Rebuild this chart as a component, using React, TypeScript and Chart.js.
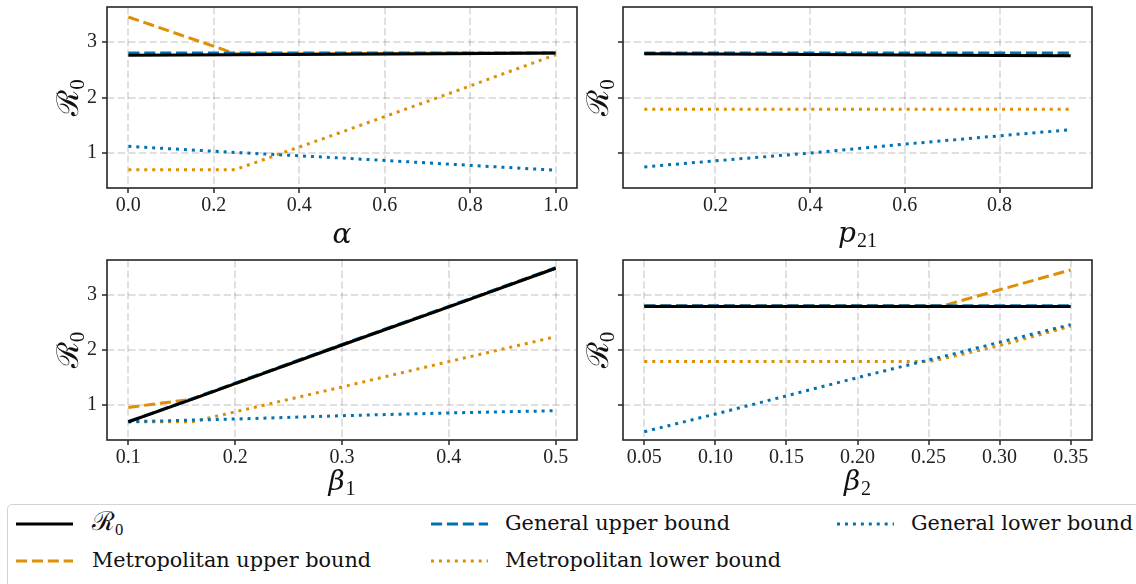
import React, { useEffect, useRef } from 'react';
import { Chart, registerables } from 'chart.js';

Chart.register(...registerables);

// ---------------- data ----------------
const yTicks = [1, 2, 3];
const yMin = 0.37;
const yMax = 3.63;

// alpha panel
const alphaX = [0, 0.25, 0.5, 0.75, 1.0];
const alphaR0 = [2.76, 2.77, 2.78, 2.79, 2.8];
const alphaGenUpper = [2.8, 2.8, 2.8, 2.8, 2.8];
const alphaMetUpper = [3.45, 2.79, 2.79, 2.8, 2.8];
const alphaGenLower = [1.12, 1.01, 0.91, 0.8, 0.69];
const alphaMetLower = [0.7, 0.7, 1.38, 2.07, 2.77];
const alphaTicks = [0, 0.2, 0.4, 0.6, 0.8, 1.0];

// p21 panel
const p21X = [0.05, 0.2, 0.4, 0.6, 0.8, 0.95];
const p21R0 = [2.79, 2.785, 2.775, 2.765, 2.755, 2.75];
const p21GenUpper = [2.8, 2.8, 2.8, 2.8, 2.8, 2.8];
const p21MetUpper = [2.79, 2.79, 2.79, 2.79, 2.79, 2.79];
const p21GenLower = [0.75, 0.86, 1.0, 1.16, 1.31, 1.42];
const p21MetLower = [1.79, 1.79, 1.79, 1.79, 1.79, 1.79];
const p21Ticks = [0.2, 0.4, 0.6, 0.8];

// beta1 panel
const beta1X = [0.1, 0.16, 0.2, 0.3, 0.4, 0.5];
const beta1R0 = [0.7, 1.11, 1.39, 2.09, 2.78, 3.48];
const beta1GenUpper = [0.7, 1.12, 1.4, 2.1, 2.79, 3.49];
const beta1MetUpper = [0.96, 1.11, 1.39, 2.09, 2.78, 3.48];
const beta1GenLower = [0.7, 0.73, 0.75, 0.81, 0.86, 0.9];
const beta1MetLower = [0.7, 0.7, 0.88, 1.33, 1.79, 2.24];
const beta1Ticks = [0.1, 0.2, 0.3, 0.4, 0.5];

// beta2 panel
const beta2X = [0.05, 0.1, 0.15, 0.2, 0.25, 0.26, 0.3, 0.35];
const beta2R0 = [2.79, 2.79, 2.79, 2.79, 2.79, 2.79, 2.79, 2.79];
const beta2GenUpper = [2.8, 2.8, 2.8, 2.8, 2.8, 2.8, 2.8, 2.8];
const beta2MetUpper = [2.8, 2.8, 2.8, 2.8, 2.8, 2.8, 3.09, 3.45];
const beta2GenLower = [0.52, 0.84, 1.17, 1.5, 1.82, 1.88, 2.14, 2.46];
const beta2MetLower = [1.79, 1.79, 1.79, 1.79, 1.79, 1.84, 2.08, 2.43];
const beta2Ticks = [0.05, 0.1, 0.15, 0.2, 0.25, 0.3, 0.35];

// axis titles (main symbol + subscript)
const yTitleMain = 'ℛ';
const yTitleSub = '0';
const xTitles = [
  { main: 'α', sub: '' },
  { main: 'p', sub: '21' },
  { main: 'β', sub: '1' },
  { main: 'β', sub: '2' },
];

// legend labels
const labelR0 = 'ℛ';
const labelMetUpper = 'Metropolitan upper bound';
const labelGenUpper = 'General upper bound';
const labelMetLower = 'Metropolitan lower bound';
const labelGenLower = 'General lower bound';

// ---------------- styles ----------------
const BLUE = '#0173B2';
const ORANGE = '#DE8F05';
const DASH = [11.1, 4.8];
const DOT = [3, 4.95];
const LW = 3;

const styles = {
  r0: { color: '#000000', dash: [] as number[] },
  genUpper: { color: BLUE, dash: DASH },
  metUpper: { color: ORANGE, dash: DASH },
  genLower: { color: BLUE, dash: DOT },
  metLower: { color: ORANGE, dash: DOT },
};

type PanelDef = {
  xs: number[];
  r0: number[];
  genUpper: number[];
  metUpper: number[];
  genLower: number[];
  metLower: number[];
  ticks: number[];
  dec: number;
  xMin: number;
  xMax: number;
  title: { main: string; sub: string };
  showY: boolean;
  cx: number; cy: number; cw: number; ch: number;
  ax: number; ay: number; ar: number; ab: number;
  yTitleX: number;
  xBaseline: number;
};

const panels: PanelDef[] = [
  {
    xs: alphaX, r0: alphaR0, genUpper: alphaGenUpper, metUpper: alphaMetUpper,
    genLower: alphaGenLower, metLower: alphaMetLower, ticks: alphaTicks, dec: 1,
    xMin: -0.05, xMax: 1.05, title: xTitles[0], showY: true,
    cx: 0, cy: 0, cw: 580, ch: 256, ax: 107, ay: 7, ar: 577, ab: 188,
    yTitleX: 67, xBaseline: 243,
  },
  {
    xs: p21X, r0: p21R0, genUpper: p21GenUpper, metUpper: p21MetUpper,
    genLower: p21GenLower, metLower: p21MetLower, ticks: p21Ticks, dec: 1,
    xMin: 0.005, xMax: 0.995, title: xTitles[1], showY: false,
    cx: 580, cy: 0, cw: 556, ch: 256, ax: 623, ay: 7, ar: 1092, ab: 188,
    yTitleX: 597, xBaseline: 242,
  },
  {
    xs: beta1X, r0: beta1R0, genUpper: beta1GenUpper, metUpper: beta1MetUpper,
    genLower: beta1GenLower, metLower: beta1MetLower, ticks: beta1Ticks, dec: 1,
    xMin: 0.08, xMax: 0.52, title: xTitles[2], showY: true,
    cx: 0, cy: 250, cw: 580, ch: 256, ax: 107, ay: 260, ar: 577, ab: 440,
    yTitleX: 67, xBaseline: 490,
  },
  {
    xs: beta2X, r0: beta2R0, genUpper: beta2GenUpper, metUpper: beta2MetUpper,
    genLower: beta2GenLower, metLower: beta2MetLower, ticks: beta2Ticks, dec: 2,
    xMin: 0.035, xMax: 0.365, title: xTitles[3], showY: false,
    cx: 580, cy: 250, cw: 556, ch: 256, ax: 623, ay: 260, ar: 1092, ab: 440,
    yTitleX: 597, xBaseline: 490,
  },
];

const framePlugin = {
  id: 'frame',
  afterDraw(chart: any) {
    const { ctx, chartArea: a } = chart;
    ctx.save();
    ctx.strokeStyle = '#262626';
    ctx.lineWidth = 1.6;
    ctx.strokeRect(a.left, a.top, a.right - a.left, a.bottom - a.top);
    ctx.restore();
  },
};

// draws "main" + lowered smaller subscript, centred on the current origin
function drawMath(ctx: any, main: string, sub: string, mainFont: string, subFont: string, drop: number, gap: number) {
  ctx.font = mainFont;
  const w1 = ctx.measureText(main).width;
  ctx.font = subFont;
  const w2 = sub ? ctx.measureText(sub).width + gap : 0;
  const x0 = -(w1 + w2) / 2;
  ctx.font = mainFont;
  ctx.fillText(main, x0, 0);
  if (sub) {
    ctx.font = subFont;
    ctx.fillText(sub, x0 + w1 + gap, drop);
  }
}

const mathTitlePlugin = {
  id: 'mathTitles',
  afterDraw(chart: any, _args: any, o: any) {
    const { ctx, chartArea: a } = chart;
    ctx.save();
    ctx.fillStyle = '#111';
    ctx.textAlign = 'left';
    ctx.textBaseline = 'alphabetic';
    // x title
    ctx.save();
    ctx.translate((a.left + a.right) / 2, o.xBaseline);
    drawMath(ctx, o.xMain, o.xSub, 'italic 28px "DejaVu Serif"', '20px "Liberation Serif"', 5, 1);
    ctx.restore();
    // y title (rotated)
    ctx.save();
    ctx.translate(o.yX + 11, (a.top + a.bottom) / 2);
    ctx.rotate(-Math.PI / 2);
    drawMath(ctx, o.yMain, o.ySub, '30px "DejaVu Serif"', '21px "Liberation Serif"', 6, 0);
    ctx.restore();
    ctx.restore();
  },
};

const TICK_FONT = { family: 'Liberation Serif', size: 20 };
const GRID_COLOR = 'rgba(0,0,0,0.12)';
const GRID_DASH = [7.4, 3.2];

function toPoints(xs: number[], ys: number[]) {
  return xs.map((x, i) => ({ x, y: ys[i] }));
}

function Panel({ p }: { p: PanelDef }) {
  const ref = useRef<HTMLCanvasElement>(null);
  useEffect(() => {
    if (!ref.current) return;
    const mk = (key: keyof typeof styles, ys: number[]) => ({
      data: toPoints(p.xs, ys),
      borderColor: styles[key].color,
      backgroundColor: styles[key].color,
      borderWidth: LW,
      borderDash: styles[key].dash,
      borderCapStyle: 'butt',
      pointRadius: 0,
      tension: 0,
      fill: false,
    });
    const gridOpts = {
      color: GRID_COLOR,
      lineWidth: 2,
      tickLength: 5,
      tickColor: '#262626',
      tickWidth: 1.5,
      tickBorderDash: [],
    };
    const chart = new Chart(ref.current, {
      type: 'line',
      data: {
        datasets: [
          mk('r0', p.r0),
          mk('genUpper', p.genUpper),
          mk('metUpper', p.metUpper),
          mk('genLower', p.genLower),
          mk('metLower', p.metLower),
        ] as any,
      },
      options: {
        animation: false,
        responsive: false,
        maintainAspectRatio: false,
        events: [],
        layout: {
          autoPadding: false,
          padding: { left: 0, top: p.ay - p.cy, right: p.cx + p.cw - p.ar, bottom: 0 },
        },
        plugins: {
          legend: { display: false },
          tooltip: { enabled: false },
          mathTitles: {
            xMain: p.title.main,
            xSub: p.title.sub,
            xBaseline: p.xBaseline - p.cy,
            yMain: yTitleMain,
            ySub: yTitleSub,
            yX: p.yTitleX - p.cx,
          },
        },
        scales: {
          x: {
            type: 'linear',
            min: p.xMin,
            max: p.xMax,
            afterBuildTicks: (s: any) => {
              s.ticks = p.ticks.map((v) => ({ value: v }));
            },
            afterFit: (s: any) => {
              s.height = p.cy + p.ch - p.ab;
              s.paddingLeft = 0;
              s.paddingRight = 0;
              s.paddingTop = 0;
              s.paddingBottom = 0;
            },
            grid: gridOpts,
            border: { display: false, dash: GRID_DASH },
            ticks: {
              autoSkip: false,
              maxRotation: 0,
              padding: 1,
              color: '#222',
              font: TICK_FONT,
              callback: (v: any) => Number(v).toFixed(p.dec),
            },
            title: { display: false },
          },
          y: {
            type: 'linear',
            min: yMin,
            max: yMax,
            afterBuildTicks: (s: any) => {
              s.ticks = yTicks.map((v) => ({ value: v }));
            },
            afterFit: (s: any) => {
              s.width = p.ax - p.cx;
              s.paddingLeft = 0;
              s.paddingRight = 0;
              s.paddingTop = 0;
              s.paddingBottom = 0;
            },
            grid: gridOpts,
            border: { display: false, dash: GRID_DASH },
            ticks: {
              display: p.showY,
              padding: 5,
              color: '#222',
              font: TICK_FONT,
              callback: (v: any) => String(v),
            },
            title: { display: false },
          },
        },
      } as any,
      plugins: [framePlugin, mathTitlePlugin],
    });
    return () => chart.destroy();
  }, []);
  return (
    <canvas
      ref={ref}
      width={p.cw}
      height={p.ch}
      style={{ position: 'absolute', left: p.cx, top: p.cy, width: p.cw, height: p.ch }}
    />
  );
}

function Sample({ x, y, color, dash }: { x: number; y: number; color: string; dash: number[] }) {
  return (
    <svg width={57} height={8} style={{ position: 'absolute', left: x, top: y - 4 }}>
      <line
        x1={0}
        y1={4}
        x2={57}
        y2={4}
        stroke={color}
        strokeWidth={LW}
        strokeDasharray={dash.length ? dash.join(' ') : undefined}
      />
    </svg>
  );
}

const legendItems = [
  { key: 'r0', label: labelR0, sx: 16, tx: 92, row: 0, sub: '0' },
  { key: 'metUpper', label: labelMetUpper, sx: 16, tx: 92, row: 1 },
  { key: 'genUpper', label: labelGenUpper, sx: 431, tx: 505, row: 0 },
  { key: 'metLower', label: labelMetLower, sx: 431, tx: 505, row: 1 },
  { key: 'genLower', label: labelGenLower, sx: 837, tx: 911, row: 0 },
];
const rowY = [524, 561];
const rowBaseline = [530.3, 567.3];

export default function App() {
  return (
    <div
      style={{
        position: 'absolute',
        left: 0,
        top: 0,
        width: 1136,
        height: 584,
        overflow: 'hidden',
        background: '#fff',
      }}
    >
      {panels.map((p, i) => (
        <Panel key={i} p={p} />
      ))}
      <div
        style={{
          position: 'absolute',
          left: 7,
          top: 504,
          width: 1140,
          height: 100,
          border: '1px solid #d3d3d3',
          borderRadius: 5,
          background: '#fff',
          boxSizing: 'border-box',
        }}
      />
      {legendItems.map((it) => {
        const st = (styles as any)[it.key];
        return (
          <React.Fragment key={it.key}>
            <Sample x={it.sx} y={rowY[it.row]} color={st.color} dash={st.dash} />
            <div
              style={{
                position: 'absolute',
                left: it.tx,
                top: rowBaseline[it.row] - 22.5,
                fontFamily: 'DejaVu Serif',
                fontSize: 20.8,
                lineHeight: '30px',
                color: '#111',
                whiteSpace: 'nowrap',
              }}
            >
              {it.sub ? <span style={{ fontSize: '1.25em', lineHeight: 0 }}>{it.label}</span> : it.label}
              {it.sub ? (
                <span
                  style={{
                    fontFamily: 'Liberation Serif',
                    fontSize: '0.8em',
                    position: 'relative',
                    top: '0.3em',
                    lineHeight: 0,
                  }}
                >
                  {it.sub}
                </span>
              ) : null}
            </div>
          </React.Fragment>
        );
      })}
    </div>
  );
}
